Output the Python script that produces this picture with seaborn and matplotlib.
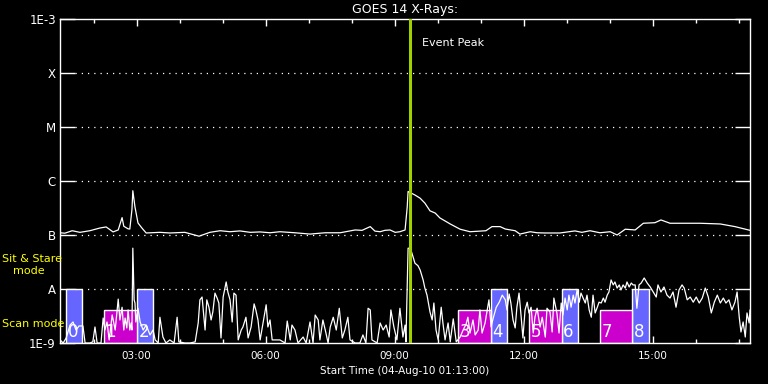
import numpy as np
import pandas as pd
import matplotlib
matplotlib.use("Agg")
import matplotlib.pyplot as plt
import seaborn as sns

# GOES 14 long channel (1-8 A), hours UT, W/m^2
long_hours = [1.22, 1.33, 1.50, 1.68, 1.91, 2.15, 2.29, 2.45, 2.57, 2.66, 2.70, 2.80, 2.84, 2.89,
              2.91, 2.96, 3.03, 3.12, 3.22, 3.54, 3.77, 4.12, 4.45, 4.70, 4.94, 5.17, 5.40, 5.64,
              5.87, 6.10, 6.33, 6.68, 7.03, 7.38, 7.73, 8.08, 8.24, 8.43, 8.54, 8.66, 8.77, 8.89,
              9.01, 9.12, 9.24, 9.29, 9.31, 9.36, 9.47, 9.59, 9.70, 9.82, 9.94, 10.05, 10.29,
              10.52, 10.75, 10.98, 11.12, 11.26, 11.45, 11.57, 11.80, 11.91, 12.15, 12.31, 12.50,
              12.84, 13.19, 13.35, 13.54, 13.77, 14.01, 14.17, 14.36, 14.59, 14.78, 15.05, 15.19,
              15.40, 15.64, 16.10, 16.57, 16.91, 17.26]
long_flux = [1.10e-7, 1.08e-7, 1.20e-7, 1.12e-7, 1.20e-7, 1.35e-7, 1.41e-7, 1.14e-7, 1.24e-7,
             2.1e-7, 1.45e-7, 1.30e-7, 1.29e-7, 3.0e-7, 6.6e-7, 3.3e-7, 1.67e-7, 1.35e-7, 1.09e-7,
             1.12e-7, 1.09e-7, 1.12e-7, 9.5e-8, 1.12e-7, 1.20e-7, 1.15e-7, 1.19e-7, 1.12e-7,
             1.14e-7, 1.10e-7, 1.15e-7, 1.10e-7, 1.04e-7, 1.10e-7, 1.10e-7, 1.24e-7, 1.22e-7,
             1.43e-7, 1.18e-7, 1.15e-7, 1.22e-7, 1.24e-7, 1.12e-7, 1.15e-7, 1.24e-7, 3.3e-7,
             6.4e-7, 6.1e-7, 5.5e-7, 4.8e-7, 3.9e-7, 2.8e-7, 2.55e-7, 2.07e-7, 1.6e-7, 1.28e-7,
             1.15e-7, 1.18e-7, 1.20e-7, 1.43e-7, 1.43e-7, 1.29e-7, 1.20e-7, 1.04e-7, 1.15e-7,
             1.10e-7, 1.09e-7, 1.09e-7, 1.19e-7, 1.12e-7, 1.20e-7, 1.10e-7, 1.15e-7, 1.00e-7,
             1.28e-7, 1.24e-7, 1.65e-7, 1.69e-7, 1.90e-7, 1.65e-7, 1.65e-7, 1.65e-7, 1.60e-7,
             1.43e-7, 1.22e-7]

# GOES 14 short channel (0.5-4 A)
short_hours = [1.22, 1.29, 1.36, 1.45, 1.52, 1.59, 1.66, 1.75, 1.80, 1.91, 1.98, 2.03, 2.08, 2.17,
               2.22, 2.26, 2.31, 2.36, 2.43, 2.50, 2.57, 2.61, 2.66, 2.70, 2.73, 2.77, 2.80, 2.84,
               2.87, 2.89, 2.91, 2.94, 2.96, 2.98, 3.03, 3.08, 3.15, 3.22, 3.31, 3.38, 3.43, 3.50,
               3.54, 3.61, 3.68, 3.77, 3.87, 3.94, 3.98, 4.12, 4.24, 4.36, 4.43, 4.47, 4.52, 4.59,
               4.63, 4.68, 4.73, 4.77, 4.82, 4.87, 4.91, 4.96, 5.01, 5.08, 5.12, 5.17, 5.22, 5.26,
               5.31, 5.36, 5.43, 5.47, 5.54, 5.59, 5.66, 5.73, 5.77, 5.82, 5.87, 5.96, 6.01, 6.05,
               6.10, 6.15, 6.24, 6.33, 6.45, 6.50, 6.57, 6.61, 6.68, 6.75, 6.87, 6.94, 7.03, 7.10,
               7.15, 7.22, 7.26, 7.33, 7.40, 7.45, 7.50, 7.57, 7.64, 7.71, 7.78, 7.84, 7.91, 7.96,
               8.08, 8.19, 8.26, 8.33, 8.38, 8.43, 8.47, 8.59, 8.66, 8.73, 8.80, 8.87, 8.91, 8.98,
               9.05, 9.12, 9.19, 9.24, 9.26, 9.31, 9.36, 9.40, 9.47, 9.54, 9.59, 9.66, 9.70, 9.75,
               9.82, 9.87, 9.91, 9.96, 10.01, 10.08, 10.12, 10.17, 10.24, 10.29, 10.36, 10.43,
               10.52, 10.59, 10.66, 10.70, 10.75, 10.82, 10.87, 10.94, 10.98, 11.03, 11.10, 11.15,
               11.19, 11.24, 11.29, 11.36, 11.43, 11.50, 11.57, 11.61, 11.66, 11.70, 11.75, 11.80,
               11.84, 11.89, 11.94, 11.98, 12.03, 12.08, 12.12, 12.17, 12.22, 12.26, 12.31, 12.38,
               12.43, 12.50, 12.54, 12.61, 12.66, 12.70, 12.77, 12.82, 12.87, 12.91, 12.96, 13.01,
               13.05, 13.10, 13.15, 13.19, 13.24, 13.29, 13.33, 13.38, 13.43, 13.47, 13.52, 13.57,
               13.61, 13.66, 13.71, 13.75, 13.80, 13.85, 13.89, 13.94, 13.98, 14.03, 14.08, 14.12,
               14.17, 14.22, 14.26, 14.31, 14.36, 14.40, 14.45, 14.50, 14.54, 14.59, 14.63, 14.68,
               14.73, 14.80, 14.87, 14.94, 15.01, 15.08, 15.12, 15.19, 15.26, 15.33, 15.40, 15.47,
               15.54, 15.61, 15.68, 15.73, 15.80, 15.87, 15.94, 16.01, 16.08, 16.15, 16.22, 16.29,
               16.36, 16.43, 16.50, 16.57, 16.64, 16.70, 16.77, 16.84, 16.91, 16.96, 17.01, 17.05,
               17.10, 17.15, 17.19, 17.24, 17.26]
short_flux = [1.14e-9, 1.0e-9, 1.24e-9, 2.15e-9, 2.45e-9, 1.74e-9, 2.07e-9, 2.07e-9, 1.0e-9, 1.0e-9,
              1.05e-9, 1.98e-9, 1.0e-9, 1.0e-9, 2.9e-9, 1.74e-9, 2.45e-9, 1.14e-9, 3.3e-9, 1.74e-9,
              6.5e-9, 2.67e-9, 4.6e-9, 1.74e-9, 2.9e-9, 1.9e-9, 4.1e-9, 1.74e-9, 2.35e-9, 1.74e-9,
              5.7e-8, 6.3e-9, 5.5e-9, 2.45e-9, 4.4e-9, 2.45e-9, 1.74e-9, 2.15e-9, 1.41e-9, 1.74e-9,
              1.14e-9, 1.0e-9, 3.0e-9, 1.29e-9, 1.0e-9, 1.14e-9, 1.0e-9, 3.0e-9, 1.05e-9, 1.0e-9,
              1.0e-9, 1.05e-9, 2.35e-9, 6.3e-9, 7.1e-9, 1.74e-9, 6.3e-9, 4.6e-9, 2.67e-9, 3.75e-9,
              8.4e-9, 6.8e-9, 5.5e-9, 1.24e-9, 7.1e-9, 1.35e-8, 8.8e-9, 6.3e-9, 2.45e-9, 8.4e-9,
              7.7e-9, 1.14e-9, 1.74e-9, 1.98e-9, 3.0e-9, 1.24e-9, 1.98e-9, 5.3e-9, 4.1e-9, 2.67e-9,
              1.14e-9, 3.0e-9, 5.1e-9, 1.98e-9, 2.67e-9, 1.14e-9, 1.14e-9, 1.14e-9, 1.0e-9, 2.55e-9,
              1.14e-9, 2.15e-9, 1.74e-9, 1.0e-9, 1.29e-9, 1.0e-9, 2.45e-9, 1.0e-9, 3.3e-9, 2.67e-9,
              1.14e-9, 2.67e-9, 1.53e-9, 1.0e-9, 1.98e-9, 3.0e-9, 1.74e-9, 4.4e-9, 1.24e-9, 1.74e-9,
              3.0e-9, 1.14e-9, 1.0e-9, 1.0e-9, 1.41e-9, 1.0e-9, 4.4e-9, 4.1e-9, 1.14e-9, 1.0e-9,
              2.35e-9, 1.74e-9, 2.15e-9, 1.29e-9, 4.1e-9, 1.98e-9, 1.14e-9, 4.4e-9, 1.29e-9, 2.15e-9,
              1.05e-9, 5.7e-8, 5.7e-8, 4.6e-8, 3.0e-8, 2.7e-8, 2.25e-8, 1.47e-8, 1.04e-8, 7.7e-9,
              3.75e-9, 2.67e-9, 5.5e-9, 1.74e-9, 1.14e-9, 4.6e-9, 2.35e-9, 1.14e-9, 2.35e-9, 1.05e-9,
              2.8e-9, 1.05e-9, 1.29e-9, 1.74e-9, 2.25e-9, 3.0e-9, 1.53e-9, 2.67e-9, 1.41e-9, 1.74e-9,
              4.1e-9, 1.53e-9, 2.35e-9, 4.1e-9, 6.3e-9, 1.98e-9, 2.9e-9, 4.6e-9, 5.7e-9, 7.7e-9,
              6.3e-9, 4.1e-9, 8.1e-9, 5.5e-9, 2.67e-9, 1.9e-9, 4.6e-9, 8.4e-9, 3.0e-9, 1.24e-9,
              4.1e-9, 5.7e-9, 3.6e-9, 4.6e-9, 1.53e-9, 3.0e-9, 4.4e-9, 1.98e-9, 3.0e-9, 1.29e-9,
              4.4e-9, 3.75e-9, 1.6e-9, 6.8e-9, 3.6e-9, 1.53e-9, 5.5e-9, 3.3e-9, 6.8e-9, 4.1e-9,
              7.7e-9, 4.6e-9, 7.7e-9, 5.5e-9, 9.6e-9, 5.7e-9, 8.4e-9, 6.8e-9, 5.5e-9, 7.7e-9,
              4.1e-9, 3.0e-9, 7.7e-9, 3.6e-9, 4.6e-9, 5.7e-9, 5.5e-9, 6.8e-9, 5.7e-9, 7.7e-9,
              8.8e-9, 1.47e-8, 1.19e-8, 1.35e-8, 1.04e-8, 1.19e-8, 9.6e-9, 1.19e-8, 1.04e-8, 1.35e-8,
              1.09e-8, 1.29e-8, 1.19e-8, 1.19e-8, 4.4e-9, 1.19e-8, 1.29e-8, 1.6e-8, 1.29e-8, 1.09e-8,
              8.8e-9, 7.1e-9, 1.19e-8, 8.8e-9, 1.09e-8, 7.7e-9, 6.8e-9, 8.8e-9, 4.6e-9, 9.6e-9,
              1.19e-8, 1.04e-8, 6.3e-9, 7.1e-9, 5.7e-9, 7.1e-9, 5.5e-9, 6.8e-9, 1.04e-8, 7.1e-9,
              3.6e-9, 5.7e-9, 7.7e-9, 5.5e-9, 6.8e-9, 5.5e-9, 6.3e-9, 4.1e-9, 5.7e-9, 8.8e-9,
              3.0e-9, 1.6e-9, 2.45e-9, 1.29e-9, 3.6e-9, 2.35e-9, 4.1e-9]

# observing mode intervals (hours UT)
scan_start = [2.23, 10.47, 12.12, 13.77]
scan_end = [3.00, 11.23, 12.88, 14.51]
scan_ids = ["1", "3", "5", "7"]
stare_start = [1.35, 3.00, 11.23, 12.88, 14.51]
stare_end = [1.72, 3.37, 11.60, 13.26, 14.91]
stare_ids = ["0", "2", "4", "6", "8"]

event_peak = 9.36
t_start, t_end = 1.2167, 17.26
class_ticks = [1e-9, 1e-8, 1e-7, 1e-6, 1e-5, 1e-4, 1e-3]
class_labels = ["1E-9", "A", "B", "C", "M", "X", "1E-3"]
hour_ticks = [3, 6, 9, 12, 15]
hour_labels = ["03:00", "06:00", "09:00", "12:00", "15:00"]

sns.set_style("ticks")
plt.rcParams.update({
    "figure.facecolor": "black", "axes.facecolor": "black", "axes.edgecolor": "white",
    "text.color": "white", "xtick.color": "white", "ytick.color": "white",
    "axes.labelcolor": "white", "font.family": ["DejaVu Sans"],
})

fig = plt.figure(figsize=(7.68, 3.84), dpi=100)
ax = fig.add_axes([60 / 768, 41 / 384, 690 / 768, 324 / 384])
ax.set_yscale("log")
ax.set_ylim(1e-9, 1e-3)
ax.set_xlim(t_start, t_end)

base = 1e-9
ax.bar(stare_start, np.array([1e-8] * len(stare_start)) - base, bottom=base,
       width=np.array(stare_end) - np.array(stare_start), align="edge", color="#6666ff", zorder=1)
ax.bar(scan_start, np.array([4.1e-9] * len(scan_start)) - base, bottom=base,
       width=np.array(scan_end) - np.array(scan_start), align="edge", color="#cc00cc", zorder=1)
for s, lab in zip(stare_start + scan_start, stare_ids + scan_ids):
    ax.text(s + 0.04, 1.1e-9, lab, color="white", fontsize=12, ha="left", va="bottom", zorder=2)

for y in class_ticks[1:-1]:
    ax.axhline(y, xmin=15 / 690, xmax=675 / 690, color="white", lw=0.9,
               linestyle=(0, (1, 4)), zorder=1)

long_df = pd.DataFrame({"hour": long_hours, "flux": long_flux})
short_df = pd.DataFrame({"hour": short_hours, "flux": short_flux})
sns.lineplot(data=long_df, x="hour", y="flux", ax=ax, color="white", lw=0.9,
             estimator=None, sort=False, zorder=3)
sns.lineplot(data=short_df, x="hour", y="flux", ax=ax, color="white", lw=0.9,
             estimator=None, sort=False, zorder=3)

ax.axvline(event_peak, color="#a0d000", lw=2.2, zorder=4)
ax.text(event_peak + 0.27, 10 ** (-3.44), "Event Peak", fontsize=8, color="white",
        ha="left", va="center")

ax.set_yticks(class_ticks)
ax.set_yticklabels(class_labels, fontsize=8.5)
ax.yaxis.set_minor_locator(matplotlib.ticker.NullLocator())
ax.tick_params(axis="y", which="major", direction="in", length=10.5, width=1,
               left=True, right=True, pad=3)
ax.set_xticks(hour_ticks)
ax.set_xticklabels(hour_labels, fontsize=7.5)
ax.set_xticks(range(2, 18), minor=True)
ax.tick_params(axis="x", which="major", direction="in", length=5, width=1,
               top=True, bottom=True, pad=6)
ax.tick_params(axis="x", which="minor", direction="in", length=3, width=1,
               top=True, bottom=True)
for sp in ax.spines.values():
    sp.set_color("white")
    sp.set_linewidth(1)

ax.set_xlabel("Start Time (04-Aug-10 01:13:00)", fontsize=7.5, labelpad=3)
ax.set_ylabel("")
ax.set_title("GOES 14 X-Rays:", fontsize=9, color="white", pad=4)

fig.text(2 / 768, 1 - 259 / 384, "Sit & Stare", color="yellow", fontsize=8,
         ha="left", va="center")
fig.text(13 / 768, 1 - 271 / 384, "mode", color="yellow", fontsize=8,
         ha="left", va="center")
fig.text(2 / 768, 1 - 324 / 384, "Scan mode", color="yellow", fontsize=8,
         ha="left", va="center")

fig.savefig("out.png", dpi=100, facecolor="black")
